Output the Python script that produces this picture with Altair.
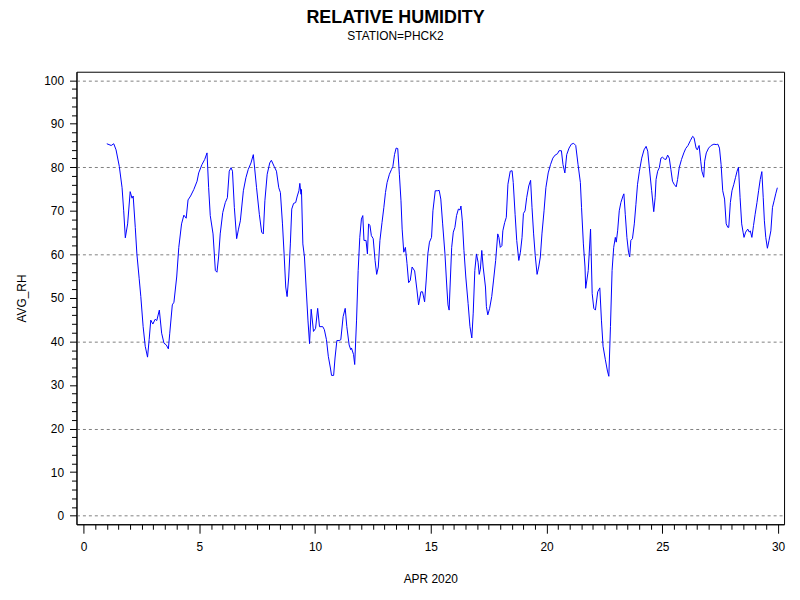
import altair as alt
import pandas as pd

# --- hourly-ish average relative humidity, station PHCK2, April 2020 ---
days_wk1 = [1.00, 1.19, 1.30, 1.40, 1.54, 1.66, 1.73, 1.80, 1.90, 2.01, 2.09, 2.14, 2.23, 2.30, 2.40, 2.47,
            2.57, 2.66, 2.76, 2.83, 2.90, 2.99, 3.09, 3.16, 3.27, 3.37, 3.47, 3.57, 3.66, 3.72, 3.83, 3.90,
            4.02, 4.11, 4.23, 4.33, 4.43, 4.51, 4.62, 4.76, 4.90, 4.97, 5.11, 5.23, 5.33, 5.40, 5.47, 5.59,
            5.69, 5.76, 5.83, 5.90, 6.01, 6.12, 6.21, 6.29, 6.37, 6.43, 6.51, 6.61, 6.69, 6.77, 6.90, 7.01]
rh_wk1 = [85.4, 85.0, 85.4, 84.0, 80.2, 75.3, 70.0, 63.8, 67.0, 74.4, 72.9, 73.4, 66.2, 60.1, 54.4, 50.3,
          43.4, 38.9, 36.4, 40.4, 44.9, 44.0, 45.1, 44.8, 47.2, 41.9, 39.6, 39.2, 38.3, 41.9, 48.4, 49.0,
          54.8, 61.6, 67.0, 69.0, 68.3, 72.5, 73.4, 74.9, 76.8, 78.7, 80.6, 81.8, 83.3, 75.3, 68.9, 64.7,
          56.3, 55.9, 59.4, 64.7, 69.6, 71.9, 73.0, 79.1, 79.9, 79.1, 70.8, 63.6, 65.8, 67.7, 74.6, 77.6]

days_wk2 = [7.11, 7.23, 7.33, 7.47, 7.59, 7.69, 7.76, 7.83, 7.93, 8.04, 8.11, 8.23, 8.33, 8.43, 8.50, 8.59,
            8.66, 8.73, 8.79, 8.86, 8.93, 8.99, 9.07, 9.16, 9.23, 9.30, 9.34, 9.39, 9.41, 9.47, 9.54, 9.61,
            9.69, 9.76, 9.83, 9.93, 10.02, 10.11, 10.19, 10.33, 10.40, 10.49, 10.57, 10.66, 10.71, 10.80,
            10.86, 10.94, 11.04, 11.11, 11.21, 11.30, 11.37, 11.47, 11.54, 11.57, 11.66, 11.71, 11.79, 11.86,
            11.93, 12.00, 12.06, 12.11, 12.20, 12.26, 12.31, 12.37, 12.43, 12.51, 12.59, 12.66, 12.73, 12.80,
            12.89, 12.97, 13.04, 13.11, 13.21, 13.30, 13.36, 13.43, 13.50, 13.57, 13.64, 13.71, 13.76, 13.83,
            13.90, 13.97, 14.04, 14.11, 14.19, 14.30, 14.40]
rh_wk2 = [79.5, 81.0, 82.9, 75.3, 69.2, 65.1, 64.7, 72.3, 78.4, 81.0, 81.6, 80.2, 79.1, 75.3, 74.2, 67.0,
          60.1, 52.5, 50.3, 54.8, 62.4, 70.4, 71.7, 71.9, 73.4, 74.6, 76.3, 73.8, 74.9, 62.4, 59.4, 52.5,
          44.9, 39.5, 47.4, 42.3, 43.0, 47.6, 43.4, 43.4, 42.7, 40.4, 36.6, 33.9, 32.2, 32.2,
          36.2, 40.2, 40.2, 40.4, 45.7, 47.6, 43.4, 39.2, 38.1, 38.5, 37.0, 34.7, 44.9, 56.3,
          63.9, 68.1, 68.9, 63.2, 63.2, 60.1, 67.0, 66.6, 64.3, 63.6, 58.6, 55.4, 57.1, 63.2,
          67.3, 70.8, 74.2, 76.5, 78.4, 79.5, 80.2, 82.9, 84.4, 84.3, 78.4, 72.3, 65.8, 60.5,
          61.6, 57.9, 53.5, 54.0, 57.1, 56.2, 51.8]

days_wk3 = [14.47, 14.57, 14.64, 14.73, 14.80, 14.87, 14.94, 15.03, 15.09, 15.19, 15.28, 15.36, 15.43, 15.51,
            15.61, 15.69, 15.74, 15.79, 15.83, 15.90, 15.97, 16.04, 16.11, 16.19, 16.26, 16.30, 16.36, 16.43,
            16.51, 16.61, 16.69, 16.77, 16.83, 16.90, 16.97, 17.04, 17.09, 17.14, 17.20, 17.26, 17.36, 17.40,
            17.46, 17.54, 17.63, 17.71, 17.80, 17.89, 17.94, 18.00, 18.07, 18.11, 18.19, 18.26, 18.33, 18.43,
            18.51, 18.56, 18.64, 18.71, 18.80, 18.87, 18.94, 19.00, 19.07, 19.14, 19.23, 19.31, 19.37, 19.44,
            19.51, 19.59, 19.66, 19.73, 19.80, 19.89, 19.97, 20.07, 20.17, 20.27, 20.37, 20.47, 20.54, 20.64,
            20.71, 20.79, 20.87, 20.97, 21.07, 21.17, 21.26, 21.36, 21.46, 21.51, 21.59, 21.66]
rh_wk3 = [48.4, 51.4, 51.4, 49.1, 54.1, 60.1, 62.8, 63.9, 70.0, 74.6, 74.6, 74.7, 72.7, 67.0,
          60.1, 52.5, 48.4, 47.2, 52.5, 61.6, 65.1, 66.2, 68.9, 70.4, 70.2, 71.1, 67.7, 60.9,
          54.8, 48.7, 43.4, 40.8, 46.5, 56.3, 60.1, 58.2, 55.4, 56.6, 60.9, 57.1, 52.5, 48.0,
          46.1, 47.6, 50.3, 54.1, 58.6, 64.7, 63.9, 61.6, 62.0, 65.4, 67.3, 68.5, 76.1, 79.1,
          79.2, 76.5, 69.2, 63.2, 58.6, 60.5, 63.9, 69.4, 70.0, 73.0, 75.7, 77.0, 70.8, 64.7,
          59.7, 55.4, 57.1, 59.4, 64.7, 70.0, 75.3, 78.7, 80.6, 82.1, 82.8, 83.1, 83.8, 83.8,
          80.6, 78.7, 82.9, 84.4, 85.3, 85.5, 85.0, 80.6, 76.5, 70.8, 62.4, 57.1]

days_wk4 = [21.69, 21.80, 21.90, 21.97, 22.04, 22.11, 22.21, 22.30, 22.37, 22.44, 22.54, 22.63, 22.69, 22.76,
            22.83, 22.90, 22.97, 23.01, 23.07, 23.14, 23.21, 23.30, 23.34, 23.40, 23.47, 23.54, 23.59, 23.64,
            23.71, 23.79, 23.86, 23.93, 24.01, 24.11, 24.21, 24.30, 24.37, 24.44, 24.54, 24.63, 24.69, 24.73,
            24.80, 24.87, 24.94, 25.01, 25.09, 25.16, 25.23, 25.30, 25.37, 25.44, 25.51, 25.60, 25.66, 25.73,
            25.83, 25.93, 26.01, 26.11, 26.21, 26.31, 26.37, 26.46, 26.51, 26.59, 26.66, 26.71, 26.79, 26.83,
            26.90, 27.00, 27.11, 27.23, 27.33, 27.40, 27.47, 27.54, 27.61, 27.69, 27.76, 27.83, 27.87, 27.94,
            28.01, 28.09, 28.16, 28.23, 28.29, 28.36, 28.43, 28.49, 28.53, 28.60, 28.69, 28.76, 28.80, 28.87,
            28.94, 29.01, 29.09, 29.16, 29.23, 29.30, 29.36, 29.41, 29.47, 29.54, 29.61, 29.69, 29.76, 29.83,
            29.90, 29.97]
rh_wk4 = [52.2, 56.3, 65.8, 51.0, 47.6, 47.2, 51.4, 52.3, 44.9, 38.9, 35.8, 33.2, 32.0, 43.4,
          56.3, 61.6, 63.9, 62.8, 65.4, 70.0, 71.9, 73.4, 73.9, 69.2, 63.9, 60.5, 59.4, 63.2,
          63.6, 67.0, 71.5, 76.1, 79.1, 82.1, 84.0, 84.8, 83.7, 79.9, 74.6, 69.8, 73.0, 77.2,
          79.1, 79.9, 82.1, 82.3, 81.9, 81.8, 82.8, 82.1, 79.5, 76.8, 76.1, 75.5, 77.2, 79.9,
          81.8, 83.3, 84.3, 85.0, 86.1, 87.1, 86.8, 84.4, 84.0, 85.0, 81.4, 79.1, 77.7, 81.4,
          83.3, 84.4, 85.0, 85.3, 85.2, 85.3, 84.4, 80.6, 74.6, 72.7, 67.0, 66.2, 66.2, 71.9,
          74.6, 76.1, 77.6, 79.1, 80.0, 73.0, 67.0, 65.1, 63.9, 65.1, 65.8, 65.1, 65.4, 63.9,
          66.6, 69.2, 71.9, 74.6, 77.2, 79.0, 73.0, 67.7, 63.9, 61.4, 63.2, 65.4, 70.8, 72.3,
          73.9, 75.3]

x_ticks = [i * 0.5 for i in range(61)]   # minor every half day, labelled every 5
y_ticks = list(range(0, 101, 2))          # minor every 2, labelled every 10

df = pd.DataFrame({
    'day': days_wk1 + days_wk2 + days_wk3 + days_wk4,
    'AVG_RH': rh_wk1 + rh_wk2 + rh_wk3 + rh_wk4,
})

FONT = 'Liberation Sans'

x_axis = alt.Axis(
    values=x_ticks, format='.0f',
    labelExpr="datum.value % 5 === 0 ? datum.label : ''",
    tickSize={'condition': {'test': 'datum.value % 5 === 0', 'value': 9}, 'value': 5},
    labelPadding=8, labelOverlap=False, labelFlush=False,
    grid=False, title='APR 2020', titleFontWeight='normal', titleFontSize=12,
    titleY=50, titleBaseline='top',
)
y_axis = alt.Axis(
    values=y_ticks, format='d',
    labelExpr="datum.value % 10 === 0 ? datum.label : ''",
    tickSize={'condition': {'test': 'datum.value % 10 === 0', 'value': 7}, 'value': 5},
    labelPadding=6, labelOverlap=False, labelFlush=False,
    grid=True, gridDash=[3, 3], gridColor='#808080',
    gridOpacity={'condition': {'test': 'datum.value % 20 === 0', 'value': 1}, 'value': 0},
    title='AVG_RH', titleFontWeight='normal', titleFontSize=12,
    titleX=-51, titleBaseline='alphabetic',
)

chart = alt.Chart(df).mark_line(color='#0000FF', strokeWidth=1).encode(
    x=alt.X('day:Q', scale=alt.Scale(domain=[-0.31, 30.26], nice=False, zero=False), axis=x_axis),
    y=alt.Y('AVG_RH:Q', scale=alt.Scale(domain=[-1.98, 101.94], nice=False, zero=False), axis=y_axis),
).properties(
    width=713,
    height=456,
    title=alt.Title('RELATIVE HUMIDITY', subtitle='STATION=PHCK2', anchor='middle',
                    fontSize=18, fontWeight='bold', subtitleFontSize=12, font=FONT,
                    subtitleFont=FONT, color='black', subtitleColor='black',
                    offset=30, dx=-35, subtitlePadding=4),
    autosize=alt.AutoSizeParams(type='none'),
    padding={'left': 69, 'top': 62, 'right': 8, 'bottom': 60},
).configure_view(
    stroke='black', strokeWidth=1
).configure_axis(
    domainColor='black', tickColor='black', labelColor='black', titleColor='black',
    labelFont=FONT, titleFont=FONT, labelFontSize=12,
)

chart.save('out.html', embed_options={'renderer': 'svg', 'actions': False})
